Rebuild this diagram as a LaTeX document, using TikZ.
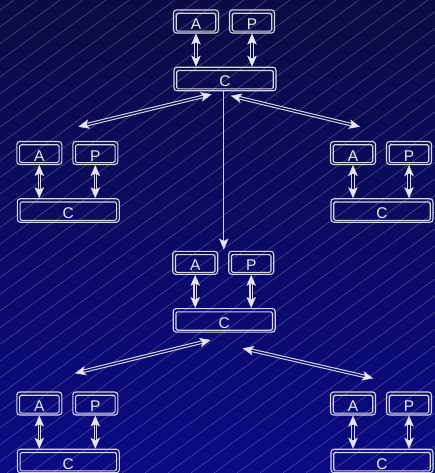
\documentclass[tikz,border=0pt]{standalone}
\usepackage{fontspec}
\setmainfont{Liberation Sans}
\usetikzlibrary{arrows.meta}
\definecolor{bgtop}{HTML}{0B0B44}
\definecolor{bgbot}{HTML}{0A0A84}
\definecolor{edgec}{HTML}{D6D6E4}
\definecolor{hatchc}{HTML}{5C5C9C}
\definecolor{tipc}{HTML}{E6E6F0}
\definecolor{textc}{HTML}{E8E8F0}
\tikzset{
  box/.style={draw=edgec, line width=1.1pt, rounded corners=3pt, minimum height=23pt,
    inner sep=0pt, text height=16pt, text depth=0pt, text=textc,
    font=\fontsize{15.5}{16}\selectfont},
  abox/.style={box, minimum width=45pt},
  cbox/.style={box, minimum width=102pt, minimum height=23.5pt},
  innerbox/.style={draw=edgec, line width=1.1pt, rounded corners=1.5pt},
  headtip/.tip={Stealth[length=11pt,width=9.5pt,inset=2.5pt,line width=0.4pt,fill=tipc]},
  dbl/.style={draw=edgec, line width=3.6pt, {headtip}-{headtip},
    postaction={draw=bgbot!#1!bgtop, line width=1.4pt, arrows=-, shorten <=9pt, shorten >=9pt}},
  sarrow/.style={draw=edgec, line width=1.2pt, -{headtip}},
  hatchline/.style={draw=hatchc, line width=0.4pt}
}
\newcommand\grp[4]{%
  \begin{scope}[shift={(#2,#3)}]
    \node[cbox] (#1c) at (0,0) {C};
    \node[abox] (#1a) at (-29,-57.5) {A};
    \node[abox] (#1p) at (27,-57.5) {P};
  \end{scope}
  \foreach \n in {#1a,#1p,#1c}
    \draw[innerbox] ([shift={(3.3,3.8)}]\n.north west) rectangle ([shift={(-3.3,-2.4)}]\n.south east);
  \draw[dbl=#4] (#1a.south) -- (#1a.south |- #1c.north);
  \draw[dbl=#4] (#1p.south) -- (#1p.south |- #1c.north);
}
\begin{document}
\begin{tikzpicture}[x=1pt,y=-1pt]
  \useasboundingbox (0,0) rectangle (435,473);
  \shade[top color=bgtop, bottom color=bgbot] (0,0) rectangle (435,473);
  \begin{scope}
    \clip (0,0) rectangle (435,473);
    \foreach \x in {-660,-637,...,440}
      \draw[hatchline] (\x,473) -- (\x+651,0);
  \end{scope}

  \grp{t}{225}{79}{17}
  \grp{l}{68.3}{210.5}{39}
  \grp{r}{382}{210.5}{39}
  \grp{m}{224.2}{320.3}{61}
  \grp{bl}{68.3}{461}{92}
  \grp{br}{382}{461}{92}

  % free ends of the diagonal connectors
  \coordinate (d1a) at (211.7,94.3);
  \coordinate (d1b) at (78.3,126.7);
  \coordinate (d2a) at (230.7,95.7);
  \coordinate (d2b) at (360,126.7);
  \coordinate (d3a) at (210.7,340);
  \coordinate (d3b) at (75,373.3);
  \coordinate (d4a) at (242.7,348.3);
  \coordinate (d4b) at (373.3,378.3);
  \coordinate (vtip) at (223.8,249.5);

  \draw[dbl=23] (d1a) -- (d1b);
  \draw[dbl=23] (d2a) -- (d2b);
  \draw[dbl=76] (d3a) -- (d3b);
  \draw[dbl=76] (d4a) -- (d4b);
  \draw[sarrow] (tc.south -| vtip) -- (vtip);
\end{tikzpicture}
\end{document}
